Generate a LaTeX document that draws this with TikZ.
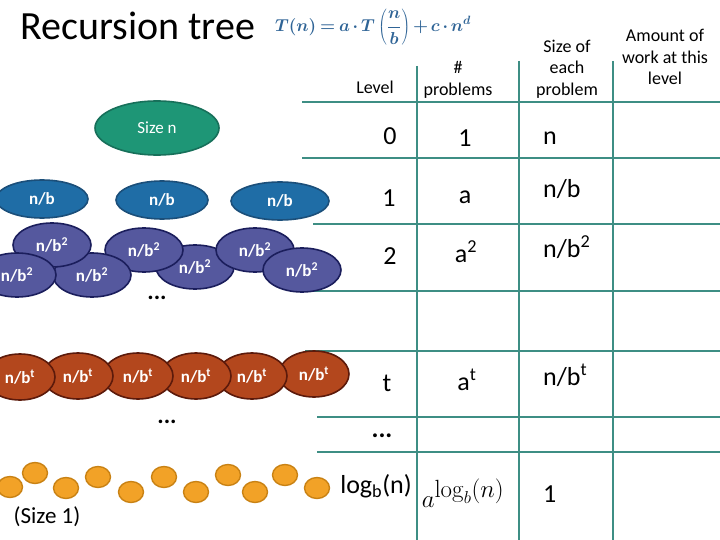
\documentclass[tikz,border=0pt]{standalone}
\usepackage[no-math]{fontspec}
\setmainfont{Carlito}
\usetikzlibrary{shapes.geometric}
\definecolor{gridteal}{HTML}{3E8E84}
\definecolor{formblue}{HTML}{2F6496}
\definecolor{rootfill}{HTML}{1E9676}
\definecolor{rootedge}{HTML}{17705A}
\definecolor{halffill}{HTML}{1F6DA6}
\definecolor{halfedge}{HTML}{1B4F7A}
\definecolor{quarterfill}{HTML}{55589E}
\definecolor{quarteredge}{HTML}{1B1E5C}
\definecolor{deepfill}{HTML}{B3471D}
\definecolor{deepedge}{HTML}{5C1A0B}
\definecolor{leaffill}{HTML}{F2A227}
\definecolor{leafedge}{HTML}{C98214}
\newsavebox{\recbox}
\begin{document}
\sbox{\recbox}{\color{formblue}\fontsize{17.5}{20}\selectfont\boldmath
  \medmuskip=2.5mu \thickmuskip=3.5mu
  $\displaystyle T(n) = a\cdot T\left(\frac{n}{b}\right) + c\cdot n^{d}$}
\begin{tikzpicture}[x=1pt,y=-1pt,
  tree/.style={ellipse, inner sep=0pt, line width=1.6pt, text=white,
               font=\fontsize{17}{20}\selectfont},
  rootnode/.style={tree, draw=rootedge, fill=rootfill, minimum width=124pt, minimum height=54pt},
  halfnode/.style={tree, draw=halfedge, fill=halffill, minimum width=92pt, minimum height=38pt,
               font=\fontsize{17}{20}\selectfont\bfseries},
  quarternode/.style={tree, draw=quarteredge, fill=quarterfill, minimum width=78pt, minimum height=44pt,
               font=\fontsize{17}{20}\selectfont\bfseries},
  deepnode/.style={tree, draw=deepedge, fill=deepfill, minimum width=70pt, minimum height=46pt,
               font=\fontsize{17}{20}\selectfont\bfseries},
  leafnode/.style={ellipse, draw=leafedge, fill=leaffill, line width=1.4pt, inner sep=0pt,
               minimum width=25pt, minimum height=21pt},
  hdr/.style={align=center, inner sep=0pt, font=\fontsize{18}{21.5}\selectfont},
  cell/.style={inner sep=0pt, anchor=base, font=\fontsize{26}{30}\selectfont},
  gridline/.style={draw=gridteal, line width=1.2pt}]
\useasboundingbox (0,0) rectangle (720,540);

% titel en recurrente betrekking
\node[anchor=base west, inner sep=0pt, font=\fontsize{40}{44}\selectfont] (title) at (20,40) {Recursion tree};
\node[inner sep=0pt] (recur) at (373,27) {\usebox{\recbox}};

% tabel
\foreach \y/\x in {102/302, 158/302, 224/313, 291/302, 351/305, 417/317, 452/317}
  \draw[gridline] (\x,\y) -- (720,\y);
\foreach \x/\y in {417/66, 519/61, 613/61}
  \draw[gridline] (\x,\y) -- (\x,540);

\node[hdr, anchor=base] (hlevel) at (375,94) {Level};
\node[hdr] (hcount) at (458,80) {\#\\problems};
\node[hdr] (hsize) at (567,69) {Size of\\each\\problem};
\node[hdr] (hwork) at (665,57) {Amount of\\work at this\\level};

% niveau
\node[cell] (lv0) at (390,145) {0};
\node[cell] (lv1) at (389,207) {1};
\node[cell] (lv2) at (390,264) {2};
\node[cell] (lvt) at (387,391) {t};
\node[cell] (lvdots) at (382,437) {\textbf{...}};
\node[cell] (lvlog) at (376,493) {log\textsubscript{b}(n)};
% aantal deelproblemen
\node[cell] (nr0) at (465,147) {1};
\node[cell] (nr1) at (465,204) {a};
\node[cell] (nr2) at (466,262) {a\textsuperscript{2}};
\node[cell] (nrt) at (467,390) {a\textsuperscript{t}};
\node[cell, font=\fontsize{34}{38}\selectfont] (nrlog) at (463,507) {$a^{\log_b(n)}$};
% grootte per deelprobleem
\foreach \n/\y/\t in {sz0/145/{n}, sz1/198/{n/b}, sz2/257/{n/b\textsuperscript{2}},
                      szt/385/{n/b\textsuperscript{t}}, szlog/502/{1}}
  \node[cell, anchor=base west] (\n) at (543,\y) {\t};

% boom
\node[rootnode] (root) at (157,128) {Size n};
\foreach \i/\x/\y/\w in {1/42/199/92, 2/162/200/92, 3/280/201/98}
  \node[halfnode, minimum width=\w pt] (half\i) at (\x,\y) {n/b};
\foreach \i/\x/\y in {5/195/267, 4/144/250, 3/92/275, 1/52/245, 2/17/275, 6/255/250, 7/302/270}
  \node[quarternode] (quarter\i) at (\x,\y) {n/b\textsuperscript{2}};
\node[inner sep=0pt, font=\fontsize{24}{26}\selectfont\bfseries] (dotsa) at (157,298) {...};
\foreach \i/\x/\y in {6/314/374, 5/252/376, 4/196/376, 3/138/376, 2/78/376, 1/20/377}
  \node[deepnode] (deep\i) at (\x,\y) {n/b\textsuperscript{t}};
\node[inner sep=0pt, font=\fontsize{24}{26}\selectfont\bfseries] (dotsb) at (167,422) {...};
\foreach \i/\x/\y in {1/10/487, 2/35/473, 3/66/488, 4/98/477, 5/131/492, 6/164/477,
                      7/196/492, 8/228/475, 9/255/492, 10/285/475, 11/317/488}
  \node[leafnode] (leaf\i) at (\x,\y) {};
\node[inner sep=0pt, font=\fontsize{23}{26}\selectfont] (unit) at (47,517) {(Size 1)};
\end{tikzpicture}
\end{document}
